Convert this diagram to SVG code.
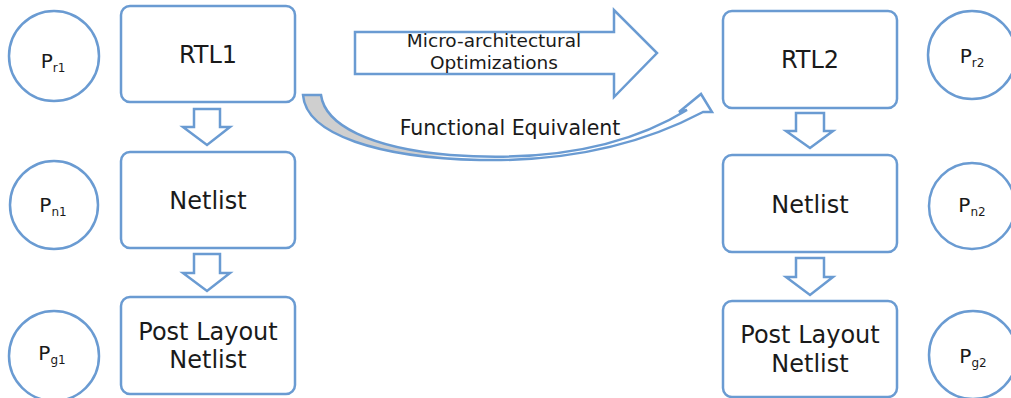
<svg xmlns="http://www.w3.org/2000/svg" width="1011" height="398" viewBox="0 0 1011 398">
<style>
.box{fill:#fff;stroke:#6a9bd2;stroke-width:2.5}
.circ{fill:#fff;stroke:#6a9bd2;stroke-width:2.5}
.blk{fill:#fff;stroke:#6a9bd2;stroke-width:2.5;stroke-linejoin:miter}
.lbl{font-family:"DejaVu Sans",sans-serif;font-size:24px;fill:#1a1a1a;text-anchor:middle}
.p{font-family:"DejaVu Sans",sans-serif;font-size:20px;fill:#1a1a1a;text-anchor:middle}
.sub{font-size:12px}
.arrtxt{font-family:"DejaVu Sans",sans-serif;font-size:18.5px;fill:#1a1a1a;text-anchor:middle}
.fe{font-family:"DejaVu Sans",sans-serif;font-size:20.5px;fill:#1a1a1a;text-anchor:middle}
</style>
<defs>
<linearGradient id="curveFill" gradientUnits="userSpaceOnUse" x1="300" y1="0" x2="720" y2="0">
<stop offset="0" stop-color="#cfcfcf"/>
<stop offset="0.3" stop-color="#cfcfcf"/>
<stop offset="0.36" stop-color="#ffffff"/>
<stop offset="1" stop-color="#ffffff"/>
</linearGradient>
</defs>
<rect width="1011" height="398" fill="#fff"/>

<g id="connectors">
<path class="blk" d="M194,109 L220,109 L220,127 L230,127 L207,145 L183,127 L194,127 Z"/>
<path class="blk" d="M194,254 L220,254 L220,273 L230,273 L207,291 L183,273 L194,273 Z"/>
<path class="blk" d="M796,113 L824,113 L824,131 L833,131 L810,148 L786,131 L796,131 Z"/>
<path class="blk" d="M796,258 L824,258 L824,277 L833,277 L810,295 L786,277 L796,277 Z"/>
<g id="micro-arrow">
<path class="blk" d="M355,32 L614,32 L614,10 L657,53 L614,97 L614,74 L355,74 Z"/>
<text class="arrtxt" x="494" y="47">Micro-architectural</text>
<text class="arrtxt" x="494" y="69">Optimizations</text>
</g>
<g id="func-equiv-arrow">
<path d="M303,95 L321,95 C325,125 370,148 450,155 C560,163 635,142 687,110 L679,112 L701,94 L712,112 L703,112 C650,140 580,162 480,160 C380,158 306,135 303,95 Z" fill="url(#curveFill)" stroke="#6a9bd2" stroke-width="2.5" stroke-linejoin="miter"/>
<text class="fe" x="510" y="135">Functional Equivalent</text>
</g>
</g>

<g id="rtl1"><rect class="box" x="121" y="6" width="174" height="96" rx="9"/><text class="lbl" x="208" y="63">RTL1</text></g>
<g id="netlist1"><rect class="box" x="121" y="152" width="174" height="96" rx="9"/><text class="lbl" x="208" y="209">Netlist</text></g>
<g id="post1"><rect class="box" x="121" y="297" width="174" height="97" rx="9"/><text class="lbl" x="208" y="340">Post Layout</text><text class="lbl" x="208" y="368">Netlist</text></g>

<g id="rtl2"><rect class="box" x="723" y="11" width="174" height="97" rx="9"/><text class="lbl" x="810" y="68">RTL2</text></g>
<g id="netlist2"><rect class="box" x="723" y="155" width="174" height="97" rx="9"/><text class="lbl" x="810" y="213">Netlist</text></g>
<g id="post2"><rect class="box" x="723" y="301" width="174" height="96" rx="9"/><text class="lbl" x="810" y="343">Post Layout</text><text class="lbl" x="810" y="372">Netlist</text></g>

<g id="pr1"><circle class="circ" cx="54" cy="56" r="45"/><text class="p" x="53" y="68">P<tspan class="sub" dy="4">r1</tspan></text></g>
<g id="pn1"><circle class="circ" cx="54" cy="205" r="44"/><text class="p" x="53" y="212">P<tspan class="sub" dy="4">n1</tspan></text></g>
<g id="pg1"><circle class="circ" cx="54" cy="356" r="45"/><text class="p" x="52" y="360">P<tspan class="sub" dy="4">g1</tspan></text></g>

<g id="pr2"><circle class="circ" cx="972" cy="55" r="44"/><text class="p" x="972" y="63">P<tspan class="sub" dy="4">r2</tspan></text></g>
<g id="pn2"><circle class="circ" cx="972" cy="206" r="43"/><text class="p" x="972" y="212">P<tspan class="sub" dy="4">n2</tspan></text></g>
<g id="pg2"><circle class="circ" cx="973" cy="355" r="44"/><text class="p" x="973" y="363">P<tspan class="sub" dy="4">g2</tspan></text></g>
</svg>
